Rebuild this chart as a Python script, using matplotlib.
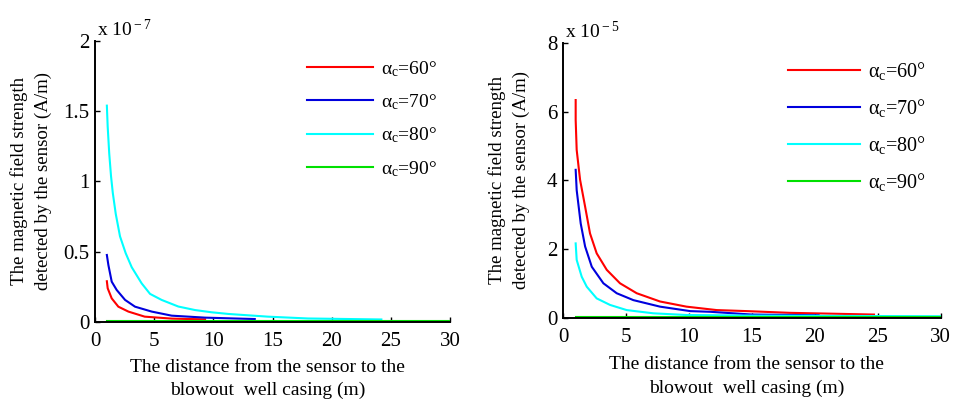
import matplotlib
matplotlib.use("Agg")
import matplotlib.pyplot as plt

plt.rcParams['font.family'] = ['Liberation Serif', 'DejaVu Serif']
plt.rcParams['mathtext.fontset'] = 'custom'
plt.rcParams['mathtext.rm'] = 'Liberation Serif'
plt.rcParams['mathtext.it'] = 'Liberation Serif'

labels = ['α$_{\\rm c}$=60°', 'α$_{\\rm c}$=70°', 'α$_{\\rm c}$=80°', 'α$_{\\rm c}$=90°']
colors = ['#ff0000', '#0000dd', '#00ffff', '#00e000']

# left panel, values in units of 1e-7 A/m
l_x60 = [1, 1.07, 1.41, 1.97, 2.82, 4.2, 5.5, 6.5, 8, 9.3]
l_y60 = [0.29, 0.24, 0.168, 0.109, 0.074, 0.038, 0.03, 0.024, 0.021, 0.019]
l_x70 = [1, 1.13, 1.41, 1.83, 2.54, 3.38, 4.79, 6.48, 9.3, 13.5]
l_y70 = [0.477, 0.405, 0.287, 0.228, 0.157, 0.109, 0.074, 0.045, 0.031, 0.021]
l_x80 = [1, 1.07, 1.2, 1.35, 1.5, 1.75, 2.11, 2.59, 3.1, 3.94, 4.65, 5.63, 7.04,
         8.45, 9.86, 11.3, 14.6, 18, 24.2]
l_y80 = [1.54, 1.39, 1.2, 1.04, 0.92, 0.77, 0.61, 0.49, 0.39, 0.275, 0.2, 0.157, 0.11,
         0.085, 0.069, 0.057, 0.038, 0.025, 0.018]
l_x90 = [1, 30]
l_y90 = [0.008, 0.008]

# right panel, values in units of 1e-5 A/m
r_x60 = [1, 1.0, 1.08, 1.35, 1.75, 2.14, 2.67, 3.47, 4.52, 5.85, 7.7, 9.8, 12.2,
         14.6, 18, 24.7]
r_y60 = [6.34, 5.76, 4.89, 4.02, 3.24, 2.46, 1.88, 1.4, 1.01, 0.72, 0.48, 0.33,
         0.23, 0.2, 0.15, 0.1]
r_x70 = [1, 1.08, 1.4, 1.75, 2.28, 3.2, 4.26, 5.58, 7.7, 10.1, 11.7, 15, 20.3]
r_y70 = [4.31, 3.72, 2.75, 2.08, 1.49, 1.01, 0.72, 0.52, 0.33, 0.2, 0.18, 0.1, 0.08]
r_x80 = [1, 1.08, 1.48, 1.88, 2.67, 3.73, 5.05, 7.17, 9.8, 15, 30]
r_y80 = [2.17, 1.69, 1.2, 0.91, 0.57, 0.38, 0.23, 0.136, 0.087, 0.07, 0.05]
r_x90 = [1, 30]
r_y90 = [0.02, 0.02]

left_series = [(l_x60, l_y60), (l_x70, l_y70), (l_x80, l_y80), (l_x90, l_y90)]
right_series = [(r_x60, r_y60), (r_x70, r_y70), (r_x80, r_y80), (r_x90, r_y90)]

fig = plt.figure(figsize=(9.56, 4.04), dpi=100)
ax1 = fig.add_axes([0.0994, 0.203, 0.3713, 0.6955])
ax2 = fig.add_axes([0.589, 0.2129, 0.395, 0.6807])


def style(ax, series, ymax, yticks, ytl, exp, leg_pos, ylab_x, xlab_y, legfs, hl, ls):
    for (xs, ys), c, lab in zip(series, colors, labels):
        ax.plot(xs, ys, color=c, lw=1.5, label=lab)
    ax.set_xlim(0, 30)
    ax.set_ylim(0, ymax)
    ax.set_xticks([0, 5, 10, 15, 20, 25, 30])
    ax.set_yticks(yticks)
    ax.set_yticklabels(ytl)
    for s in ['top', 'right']:
        ax.spines[s].set_visible(False)
    for s in ['left', 'bottom']:
        ax.spines[s].set_linewidth(1.4)
    ax.tick_params(direction='in', length=3.5, width=1, labelsize=15)
    ax.tick_params(axis='x', pad=7)
    ax.tick_params(axis='y', pad=4)
    ax.set_xlabel('The distance from the sensor to the\nblowout  well casing (m)', fontsize=14,
                  linespacing=1.45, va='top')
    ax.xaxis.set_label_coords(0.486, xlab_y)
    ax.set_ylabel('The magnetic field strength\ndetected by the sensor (A/m)', fontsize=13.6,
                  linespacing=1.5)
    ax.yaxis.set_label_coords(ylab_x, 0.5)
    ax.text(0.005, 1.005, 'x 10$^{\\rm %s}$' % exp, transform=ax.transAxes, fontsize=14,
            ha='left', va='bottom')
    ax.legend(frameon=False, loc='upper left', bbox_to_anchor=leg_pos, fontsize=legfs,
              handlelength=hl, labelspacing=ls, handletextpad=0.4, borderpad=0,
              borderaxespad=0)


style(ax1, left_series, 2, [0, 0.5, 1, 1.5, 2], ['0', '0.5', '1', '1.5', '2'], '-7',
      (0.597, 0.936), -0.12, -0.13, 14, 3.4, 0.7)
style(ax2, right_series, 8, [0, 2, 4, 6, 8], ['0', '2', '4', '6', '8'], '-5',
      (0.595, 0.938), -0.088, -0.14, 14.5, 3.6, 0.75)

fig.savefig('out.png', dpi=100)
